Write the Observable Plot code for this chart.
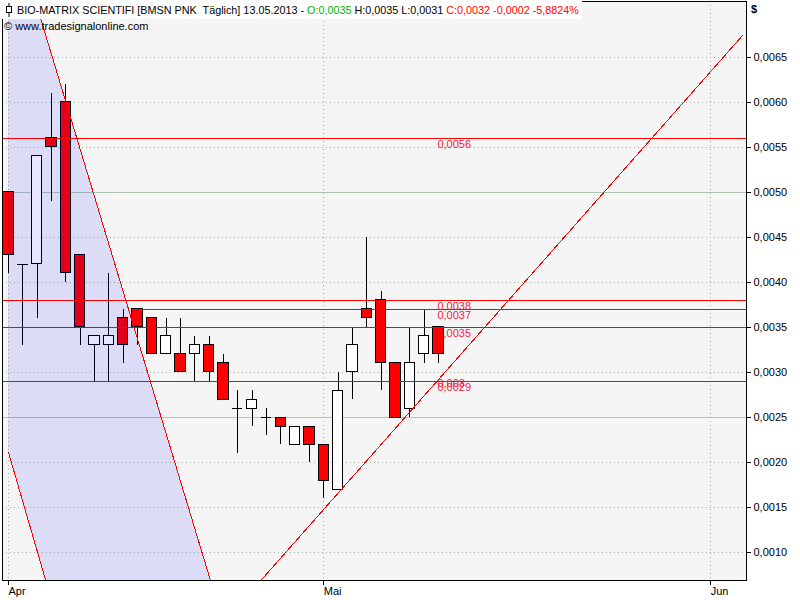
<!DOCTYPE html>
<html><head><meta charset="utf-8">
<script src="https://cdn.jsdelivr.net/npm/d3@7"></script>
<script src="https://cdn.jsdelivr.net/npm/@observablehq/plot@0.6"></script>
<style>
body{margin:0;background:#fff;}
#wrap{position:relative;width:800px;height:600px;font-family:"Liberation Sans",Arial,sans-serif;}
#chart svg{display:block;}
#chart svg line, #chart svg rect, #chart svg path{shape-rendering:crispEdges;}
#title{position:absolute;left:2px;top:1px;height:18px;width:580px;background:#fff;font-size:10.8px;line-height:18px;white-space:pre;color:#000;}
#title .g{color:#00b000;} #title .r{color:#ff0000;}
#sub{position:absolute;left:4px;top:18px;font-size:11px;line-height:16px;white-space:pre;color:#000;}
#cur{position:absolute;left:751px;top:3px;font-size:11px;color:#000;font-weight:bold;}
</style></head>
<body>
<div id="wrap">
<div id="chart"></div>
<div id="title"><svg width="10" height="14" style="vertical-align:-3px;margin:0 3px 0 2px"><line x1="5" y1="0" x2="5" y2="14" stroke="#000"/><rect x="2.5" y="3.5" width="5" height="6" fill="#fff" stroke="#000"/></svg>BIO-MATRIX SCIENTIFI [BMSN PNK  Täglich] 13.05.2013 - <span class="g">O:0,0035</span> H:0,0035 L:0,0031 <span class="r">C:0,0032 -0,0002 -5,8824%</span></div>
<div id="sub">© www.tradesignalonline.com</div>
<div id="cur">$</div>
</div>
<script>
// trading days (index = position in list)
const dates = ["01.04","02.04","03.04","04.04","05.04","08.04","09.04","10.04","11.04","12.04",
  "15.04","16.04","17.04","18.04","19.04","22.04","23.04","24.04","25.04","26.04",
  "29.04","30.04","01.05","02.05","03.05","06.05","07.05","08.05","09.05","10.05","13.05"];
const opens  = [0.0050,0.0042,0.0042,0.0056,0.0060,0.0043,0.0033,0.0033,0.0036,0.0037,0.0036,0.0032,0.0032,0.0032,0.0033,0.0031,0.0026,0.0026,0.0025,0.0025,0.0022,0.0024,0.0022,0.0017,0.0030,0.0037,0.0038,0.0031,0.0026,0.0032,0.0035];
const highs  = [0.0050,0.0042,0.0054,0.0061,0.0062,0.0043,0.0034,0.0041,0.0037,0.0037,0.0036,0.0036,0.0036,0.0034,0.0034,0.0032,0.0028,0.0028,0.0026,0.0025,0.0024,0.0024,0.0022,0.0030,0.0035,0.0045,0.0039,0.0031,0.0035,0.0037,0.0035];
const lows   = [0.0041,0.0033,0.0036,0.0049,0.0040,0.0033,0.0029,0.0029,0.0031,0.0033,0.0032,0.0032,0.0030,0.0029,0.0029,0.0027,0.0021,0.0024,0.0023,0.0022,0.0022,0.0020,0.0016,0.0017,0.0027,0.0035,0.0028,0.0025,0.0025,0.0031,0.0031];
const closes = [0.0043,0.0042,0.0054,0.0055,0.0041,0.0035,0.0034,0.0034,0.0033,0.0035,0.0032,0.0034,0.0030,0.0033,0.0030,0.0027,0.0026,0.0027,0.0025,0.0024,0.0024,0.0022,0.0018,0.0028,0.0033,0.0036,0.0031,0.0025,0.0031,0.0034,0.0032];

// horizontal levels
const levelValues = [0.0056,0.0038,0.0037,0.0035,0.0029];
const levelFrom   = [null,null,8.64,null,null];
const labelValues = [0.0056,0.0038,0.0037,0.0035,0.00295,0.0029];
const labelTexts  = ["0,0056","0,0038","0,0037","0,0035","0,003","0,0029"];

// trend lines: [index, value] anchors
const channelUpper = [[1.85,0.00714],[14.15,0.00066]];
const channelLower = [[0,0.00211],[2.65,0.00066]];
const supportLine  = [[17.45,0.00066],[51.2,0.00674]];

// axis ticks
const yTicks = [0.0010,0.0015,0.0020,0.0025,0.0030,0.0035,0.0040,0.0045,0.0050,0.0055,0.0060,0.0065];
const ySolid = [0.0025,0.0050];
const xTickPos = [0,22,49];
const xTickLabels = ["Apr","Mai","Jun"];

const candles = dates.map((d,i)=>({i, date:d, o:opens[i], h:highs[i], l:lows[i], c:closes[i]}));
const W = 0.36;
const up = candles.filter(d=>d.c>d.o), down = candles.filter(d=>d.c<d.o), doji = candles.filter(d=>d.c===d.o);
const xMin = -0.42, xMax = 51.5;
const lineAt = (pts,x)=>{const [[x0,y0],[x1,y1]]=pts;return y0+(y1-y0)*(x-x0)/(x1-x0);};
const shade = [0,16].map(x=>({x, lo:lineAt(channelLower,x), hi:lineAt(channelUpper,x)}));
const levels = levelValues.map((v,k)=>({v, from: levelFrom[k]==null?xMin:levelFrom[k]}));
const labels = labelValues.map((v,k)=>({v, t:labelTexts[k]}));
const lastI = candles.length-1;
const fmt = d=>d.toFixed(4).replace(".",",");

const chart = Plot.plot({
  width:800, height:600,
  marginLeft:2, marginRight:54, marginTop:1, marginBottom:20,
  style:{fontFamily:"Liberation Sans, Arial, sans-serif", fontSize:"11px", background:"transparent", color:"#000"},
  x:{type:"linear", domain:[xMin,xMax], axis:null},
  y:{domain:[0.000689,0.007122], axis:null},
  marks:[
    Plot.frame({fill:"#f5f5f5", stroke:null}),
    Plot.gridY(yTicks.filter(t=>!ySolid.includes(t)), {stroke:"#a8b4a8", strokeOpacity:1, strokeDasharray:"1,3"}),
    Plot.gridY(ySolid, {stroke:"#b0c4b0", strokeOpacity:1}),
    Plot.gridX(xTickPos, {stroke:"#a8b4a8", strokeOpacity:1, strokeDasharray:"1,3"}),
    Plot.text(labels, {x:()=>lastI, y:"v", text:"t", textAnchor:"start", lineAnchor:"top", dx:-1, dy:2, fill:"#f0203c", fontSize:11}),
    Plot.ruleX(candles, {x:"i", y1:"l", y2:"h", stroke:"#000", strokeWidth:1}),
    Plot.rect(down, {x1:d=>d.i-W, x2:d=>d.i+W, y1:"o", y2:"c", fill:"#ff0000", stroke:"#000", strokeWidth:1}),
    Plot.rect(up, {x1:d=>d.i-W, x2:d=>d.i+W, y1:"o", y2:"c", fill:"#ffffff", stroke:"#000", strokeWidth:1}),
    Plot.ruleY(doji, {y:"o", x1:d=>d.i-W, x2:d=>d.i+W, stroke:"#000", strokeWidth:1}),
    Plot.areaY(shade, {x:"x", y1:"lo", y2:"hi", fill:"#0000ff", fillOpacity:0.1, clip:true}),
    Plot.ruleY(levels, {y:"v", x1:"from", x2:()=>xMax, stroke:"#ff0000", strokeWidth:1}),
    Plot.line(channelUpper, {x:d=>d[0], y:d=>d[1], stroke:"#ff0000", strokeWidth:1, clip:true}),
    Plot.line(channelLower, {x:d=>d[0], y:d=>d[1], stroke:"#ff0000", strokeWidth:1, clip:true}),
    Plot.line(supportLine, {x:d=>d[0], y:d=>d[1], stroke:"#ff0000", strokeWidth:1, clip:true}),
    Plot.axisY(yTicks, {anchor:"right", tickSize:4, tickPadding:3, tickFormat:fmt, label:null, fontSize:11}),
    Plot.axisX(xTickPos, {anchor:"bottom", tickSize:5, tickPadding:2, tickFormat:d=>xTickLabels[xTickPos.indexOf(d)], textAnchor:"start", dx:0, label:null, fontSize:11}),
    Plot.frame({stroke:"#000"})
  ]
});
document.getElementById("chart").appendChild(chart);
</script>
</body></html>
